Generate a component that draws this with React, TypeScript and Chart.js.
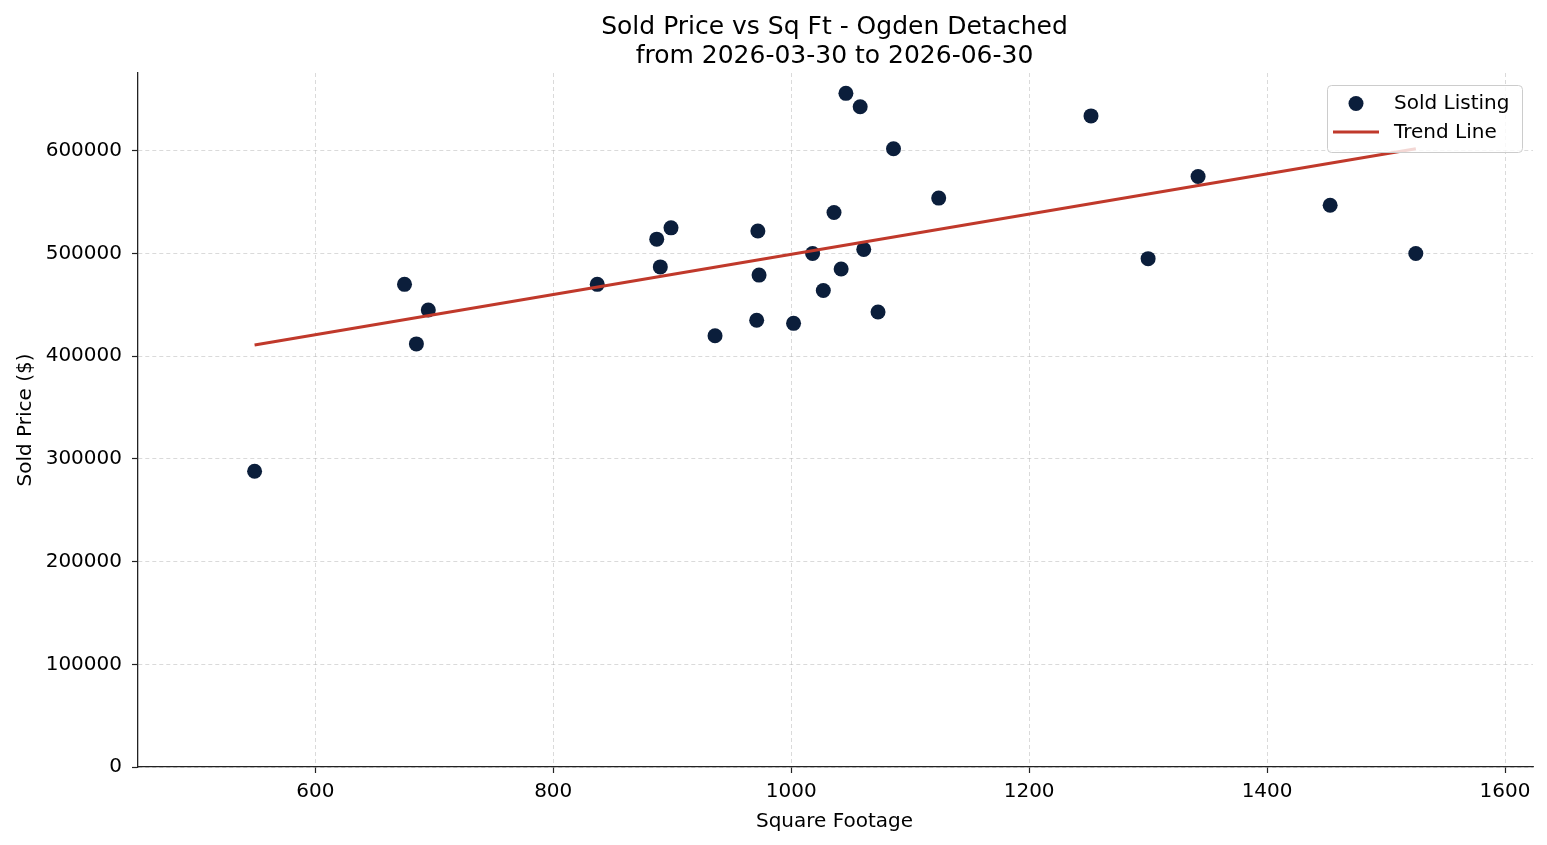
import React, { useEffect, useRef } from "react";
import { Chart, registerables } from "chart.js";

Chart.register(...registerables);

const titleLines = ["Sold Price vs Sq Ft - Ogden Detached", "from 2026-03-30 to 2026-06-30"];
const xLabel = "Square Footage";
const yLabel = "Sold Price ($)";
const legendLabels = ["Sold Listing", "Trend Line"];

const sqft = [549, 675, 695, 685, 837, 887, 899, 890, 936, 972, 973, 971, 1002, 1018, 1027, 1036, 1042, 1046, 1058, 1061, 1073, 1086, 1124, 1252, 1300, 1342, 1453, 1525];
const price = [288000, 470000, 445000, 412000, 470000, 514000, 525000, 487000, 420000, 522000, 479000, 435000, 432000, 500000, 464000, 540000, 485000, 656000, 643000, 504000, 443000, 602000, 554000, 634000, 495000, 575000, 547000, 500000];

const trendX = [549, 1525];
const trendY = [411000, 602000];

const xTicks = [600, 800, 1000, 1200, 1400, 1600];
const yTicks = [0, 100000, 200000, 300000, 400000, 500000, 600000];

const NAVY = "#0b1e3b";
const RED = "#c0392b";
const FONT = '"DejaVu Sans", sans-serif';

const overlay = {
  id: "overlay",
  afterDraw(chart: any) {
    const ctx = chart.ctx as CanvasRenderingContext2D;
    const ca = chart.chartArea;
    const cx = (ca.left + ca.right) / 2;
    const cy = (ca.top + ca.bottom) / 2;
    ctx.save();
    ctx.fillStyle = "#000";
    ctx.textAlign = "center";
    ctx.textBaseline = "alphabetic";
    ctx.font = `25px ${FONT}`;
    ctx.fillText(titleLines[0], cx - 1, 34);
    ctx.fillText(titleLines[1], cx - 1, 63);
    ctx.font = `20px ${FONT}`;
    ctx.fillText(xLabel, cx - 1, 827);
    ctx.save();
    ctx.translate(31, cy);
    ctx.rotate(-Math.PI / 2);
    ctx.fillText(yLabel, 0, 0);
    ctx.restore();

    // legend
    const bx = ca.right - 206;
    const by = ca.top + 12;
    const bw = 195;
    const bh = 67;
    ctx.beginPath();
    (ctx as any).roundRect(bx + 0.5, by + 0.5, bw, bh, 4);
    ctx.fillStyle = "rgba(255,255,255,0.8)";
    ctx.fill();
    ctx.strokeStyle = "#cccccc";
    ctx.lineWidth = 1;
    ctx.stroke();

    ctx.beginPath();
    ctx.arc(bx + 29, by + 18.5, 7.5, 0, Math.PI * 2);
    ctx.fillStyle = NAVY;
    ctx.fill();

    ctx.beginPath();
    ctx.moveTo(bx + 6, by + 47);
    ctx.lineTo(bx + 52, by + 47);
    ctx.strokeStyle = RED;
    ctx.lineWidth = 3;
    ctx.stroke();

    ctx.fillStyle = "#000";
    ctx.textAlign = "left";
    ctx.font = `20px ${FONT}`;
    ctx.fillText(legendLabels[0], bx + 67, by + 24);
    ctx.fillText(legendLabels[1], bx + 67, by + 53);
    ctx.restore();
  },
};

export default function App() {
  const ref = useRef<HTMLCanvasElement>(null);
  useEffect(() => {
    document.body.style.margin = "0";
    const canvas = ref.current!;
    const chart = new Chart(canvas, {
      type: "scatter",
      data: {
        datasets: [
          {
            type: "line",
            label: legendLabels[1],
            data: trendX.map((x, i) => ({ x, y: trendY[i] })),
            borderColor: RED,
            backgroundColor: RED,
            borderWidth: 3,
            pointRadius: 0,
            fill: false,
            order: 0,
          } as any,
          {
            type: "scatter",
            label: legendLabels[0],
            data: sqft.map((x, i) => ({ x, y: price[i] })),
            backgroundColor: NAVY,
            borderColor: NAVY,
            borderWidth: 0,
            pointRadius: 7.5,
            pointHoverRadius: 7.5,
            order: 1,
          },
        ],
      },
      options: {
        responsive: false,
        animation: false,
        devicePixelRatio: 1,
        layout: { padding: { top: 73, right: 14, left: 0, bottom: 0 } },
        plugins: {
          legend: { display: false },
          title: { display: false },
          tooltip: { enabled: false },
        },
        scales: {
          x: {
            type: "linear",
            position: "bottom",
            min: 451,
            max: 1623.5,
            afterBuildTicks: (scale: any) => {
              scale.ticks = xTicks.map((v) => ({ value: v }));
            },
            afterFit: (scale: any) => {
              scale.height = 78;
            },
            ticks: {
              font: { family: FONT, size: 20 },
              color: "#000",
              padding: 7,
              maxRotation: 0,
              autoSkip: false,
              callback: (v: any) => String(v),
            },
            grid: {
              color: "rgba(176,176,176,0.6)",
              lineWidth: 0.8,
              tickColor: "#222",
              tickLength: 6,
              tickWidth: 1.2,
              tickBorderDash: [],
            },
            border: { display: true, color: "#222", width: 1.3, dash: [4, 3] },
          },
          y: {
            type: "linear",
            position: "left",
            min: 0,
            max: 675800,
            afterBuildTicks: (scale: any) => {
              scale.ticks = yTicks.map((v) => ({ value: v }));
            },
            afterFit: (scale: any) => {
              scale.width = 138;
            },
            ticks: {
              font: { family: FONT, size: 20 },
              color: "#000",
              padding: 10,
              autoSkip: false,
              callback: (v: any) => String(v),
            },
            grid: {
              color: "rgba(176,176,176,0.6)",
              lineWidth: 0.8,
              tickColor: "#222",
              tickLength: 6,
              tickWidth: 1.2,
              tickBorderDash: [],
            },
            border: { display: true, color: "#222", width: 1.3, dash: [4, 3] },
          },
        },
      },
      plugins: [overlay],
    });
    return () => chart.destroy();
  }, []);
  return <canvas ref={ref} width={1547} height={845} style={{ display: "block" }} />;
}
